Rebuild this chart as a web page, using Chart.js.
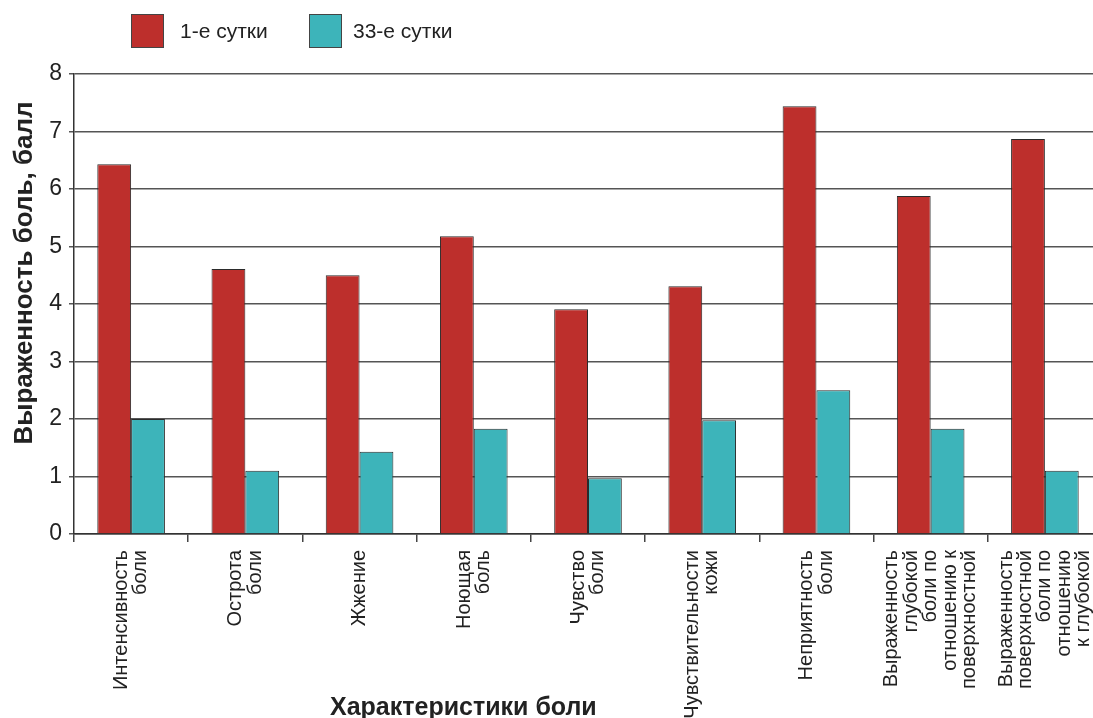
<!DOCTYPE html>
<html>
<head>
<meta charset="utf-8">
<script src="https://cdn.jsdelivr.net/npm/chart.js@4/dist/chart.umd.min.js"></script>
<style>
  html, body { margin: 0; padding: 0; background: #fff; overflow: hidden; }
  #wrap { width: 1093px; height: 718px; position: relative; overflow: hidden; }
  #c { display: block; }
</style>
</head>
<body>
<div id="wrap"><canvas id="c" width="1102" height="718"></canvas></div>
<script>
const categories = [
  ['Интенсивность', 'боли'],
  ['Острота', 'боли'],
  ['Жжение'],
  ['Ноющая', 'боль'],
  ['Чувство', 'боли'],
  ['Чувствительности', 'кожи'],
  ['Неприятность', 'боли'],
  ['Выраженность', 'глубокой', 'боли по', 'отношению к', 'поверхностной'],
  ['Выраженность', 'поверхностной', 'боли по', 'отношению', 'к глубокой']
];
const day1Values = [6.43, 4.61, 4.50, 5.18, 3.91, 4.31, 7.44, 5.88, 6.87];
const day33Values = [2.00, 1.10, 1.43, 1.83, 0.97, 1.98, 2.50, 1.83, 1.10];
const seriesNames = ['1-е сутки', '33-е сутки'];
const yTicks = [0, 1, 2, 3, 4, 5, 6, 7, 8];
const yTitle = 'Выраженность боль, балл';
const xTitle = 'Характеристики боли';

const RED = '#bd2f2c';
const TEAL = '#3db4ba';
const FONT = "'Liberation Sans', Arial, sans-serif";

const centerLabels = {
  id: 'centerLabels',
  beforeDraw(chart) {
    const xs = chart.scales.x;
    const items = xs.getLabelItems();
    if (items._centered) return;
    items.forEach(it => {
      const n = Array.isArray(it.label) ? it.label.length : 1;
      it.options.translation[0] -= (n - 1) * it.font.lineHeight / 2;
    });
    items._centered = true;
  }
};

const decorations = {
  id: 'decorations',
  afterDraw(chart) {
    const ctx = chart.ctx;
    ctx.save();
    const boxes = [
      { x: 131, color: RED, text: seriesNames[0], tx: 180 },
      { x: 309, color: TEAL, text: seriesNames[1], tx: 353 }
    ];
    ctx.font = '21px ' + FONT;
    ctx.textBaseline = 'middle';
    ctx.textAlign = 'left';
    boxes.forEach(b => {
      ctx.fillStyle = b.color;
      ctx.fillRect(b.x, 14, 32, 34);
      ctx.strokeStyle = '#444';
      ctx.lineWidth = 1;
      ctx.strokeRect(b.x + 0.5, 14.5, 32, 33);
      ctx.fillStyle = '#222';
      ctx.fillText(b.text, b.tx, 32);
    });
    ctx.save();
    ctx.translate(32, 273);
    ctx.rotate(-Math.PI / 2);
    ctx.font = 'bold 26px ' + FONT;
    ctx.textAlign = 'center';
    ctx.textBaseline = 'alphabetic';
    ctx.fillStyle = '#222';
    ctx.fillText(yTitle, 0, 0);
    ctx.restore();
    ctx.font = 'bold 25px ' + FONT;
    ctx.textAlign = 'left';
    ctx.textBaseline = 'alphabetic';
    ctx.fillStyle = '#222';
    ctx.fillText(xTitle, 330, 715);
    ctx.restore();
  }
};

new Chart(document.getElementById('c'), {
  type: 'bar',
  data: {
    labels: categories,
    datasets: [
      { label: seriesNames[0], data: day1Values, backgroundColor: RED, borderColor: '#2b2b2b', borderWidth: 1 },
      { label: seriesNames[1], data: day33Values, backgroundColor: TEAL, borderColor: '#2b2b2b', borderWidth: 1 }
    ]
  },
  options: {
    responsive: false,
    devicePixelRatio: 1,
    animation: false,
    layout: { padding: { left: 0, right: 0, top: 74, bottom: 0 } },
    datasets: { bar: { categoryPercentage: 0.592, barPercentage: 1.0 } },
    plugins: {
      legend: { display: false },
      tooltip: { enabled: false },
      title: { display: false }
    },
    scales: {
      x: {
        afterFit(s) { s.height = 184; s.paddingLeft = 0; s.paddingRight = 0; },
        grid: { offset: true, drawOnChartArea: false, drawTicks: true, tickLength: 8, color: '#444', lineWidth: 1.5 },
        border: { display: true, color: '#333', width: 1.5 },
        ticks: {
          autoSkip: false, maxRotation: 90, minRotation: 90, padding: 8,
          color: '#222', font: { family: FONT, size: 20, lineHeight: 0.97 }
        }
      },
      y: {
        min: 0, max: 8,
        afterFit(s) { s.width = 74; s.paddingTop = 0; s.paddingBottom = 0; },
        afterBuildTicks(s) { s.ticks = yTicks.map(v => ({ value: v })); },
        grid: { color: '#555', lineWidth: 1.5, drawTicks: true, tickLength: 5 },
        border: { display: true, color: '#333', width: 1.5 },
        ticks: { stepSize: 1, padding: 7, color: '#222', font: { family: FONT, size: 23 } }
      }
    }
  },
  plugins: [centerLabels, decorations]
});
</script>
</body>
</html>
